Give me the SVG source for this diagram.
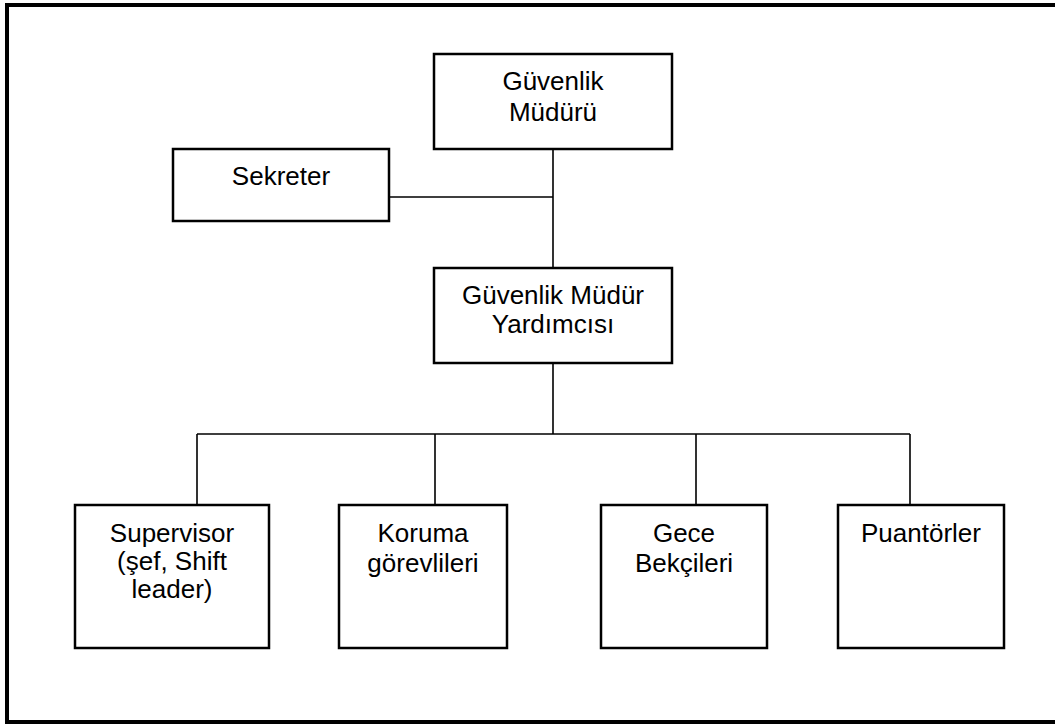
<svg xmlns="http://www.w3.org/2000/svg" width="1055" height="725" viewBox="0 0 1055 725">
<style>
.box{fill:#fff;stroke:#000;stroke-width:2.5}
.t{font-family:"Liberation Sans",Arial,sans-serif;font-size:26px;fill:#000;text-anchor:middle}
.c{stroke:#000;stroke-width:1.6;fill:none}
</style>
<rect x="7" y="5" width="1060" height="717" fill="#fff" stroke="#000" stroke-width="4"/>
<g id="connectors">
<path class="c" d="M553 149V268M389 197H553M553 363V434M197 434H910M197 434V505M435 434V505M696 434V505M910 434V505"/>
</g>
<g id="mudur">
<rect class="box" x="434" y="54" width="238" height="95"/>
<text class="t" x="553" y="90">Güvenlik</text>
<text class="t" x="553" y="121">Müdürü</text>
</g>
<g id="sekreter">
<rect class="box" x="173" y="149" width="216" height="72"/>
<text class="t" x="281" y="185">Sekreter</text>
</g>
<g id="yardimci">
<rect class="box" x="434" y="268" width="238" height="95"/>
<text class="t" x="553" y="304">Güvenlik Müdür</text>
<text class="t" x="553" y="333">Yardımcısı</text>
</g>
<g id="supervisor">
<rect class="box" x="75" y="505" width="194" height="143"/>
<text class="t" x="172" y="542">Supervisor</text>
<text class="t" x="172" y="570">(şef, Shift</text>
<text class="t" x="172" y="598">leader)</text>
</g>
<g id="koruma">
<rect class="box" x="339" y="505" width="168" height="143"/>
<text class="t" x="423" y="542">Koruma</text>
<text class="t" x="423" y="572">görevlileri</text>
</g>
<g id="gece">
<rect class="box" x="601" y="505" width="166" height="143"/>
<text class="t" x="684" y="542">Gece</text>
<text class="t" x="684" y="572">Bekçileri</text>
</g>
<g id="puantorler">
<rect class="box" x="838" y="505" width="166" height="143"/>
<text class="t" x="921" y="542">Puantörler</text>
</g>
</svg>
